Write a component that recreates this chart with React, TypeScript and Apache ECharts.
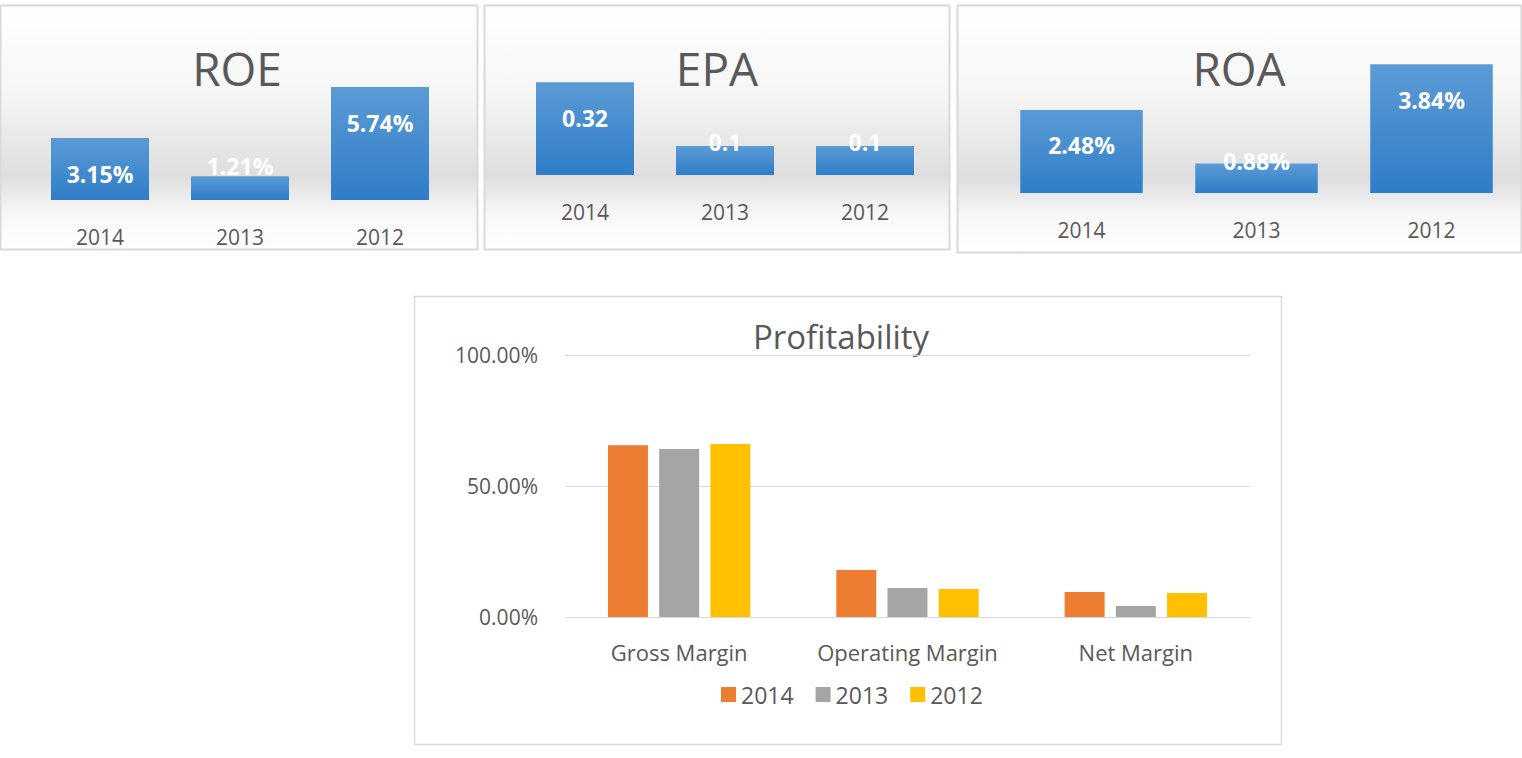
import * as echarts from "echarts";
import { useEffect, useRef } from "react";

const years = ["2014", "2013", "2012"];
const roe = [3.15, 1.21, 5.74];
const epa = [0.32, 0.1, 0.1];
const roa = [2.48, 0.88, 3.84];
const metrics = ["Gross Margin", "Operating Margin", "Net Margin"];
const m2014 = [65.6, 17.9, 9.5];
const m2013 = [64.1, 11.1, 4.2];
const m2012 = [66.0, 10.7, 9.2];

const FONT = "Open Sans";
const GREY = "#595959";

const blue = new echarts.graphic.LinearGradient(0, 0, 0, 1, [
  { offset: 0, color: "#5b9bd5" },
  { offset: 1, color: "#2f7dc8" },
]);

const panelBg = new echarts.graphic.LinearGradient(0, 0, 0, 1, [
  { offset: 0, color: "#ffffff" },
  { offset: 0.35, color: "#f6f6f6" },
  { offset: 0.7, color: "#dedede" },
  { offset: 0.85, color: "#f7f7f7" },
  { offset: 1, color: "#ffffff" },
]);

const panels = [
  { x: 0, y: 5, w: 478, h: 245, title: "ROE", tx: 237 },
  { x: 484, y: 5, w: 466, h: 245, title: "EPA", tx: 717 },
  { x: 957, y: 5, w: 565, h: 248, title: "ROA", tx: 1239 },
];

// short bars carry their label straddling the top edge
function smallBar(idx: number, data: number[], fmt: (v: number) => string, shortDist: number[]) {
  return {
    type: "bar",
    xAxisIndex: idx,
    yAxisIndex: idx,
    data: data.map((v, i) =>
      shortDist[i] === undefined || shortDist[i] === null
        ? v
        : { value: v, label: { position: "top", distance: shortDist[i] } },
    ),
    barWidth: "70%",
    itemStyle: { color: blue },
    label: {
      show: true,
      position: "insideTop",
      distance: 24,
      color: "#fff",
      fontWeight: "bold",
      fontSize: 23,
      fontFamily: FONT,
      formatter: (p: any) => fmt(p.value),
    },
  };
}

function getOption() {
  const grids = [
    { left: 30, width: 420, top: 82, height: 118 },
    { left: 515, width: 420, top: 59, height: 116 },
    { left: 994, width: 525, top: 59, height: 134 },
    { left: 565, width: 685, top: 355, height: 262 },
  ];
  const maxes = [6, 0.4, 4];
  const xAxis: any[] = [0, 1, 2].map((i) => ({
    type: "category",
    gridIndex: i,
    data: years,
    axisLine: { show: false },
    axisTick: { show: false },
    axisLabel: { color: GREY, fontSize: 21, fontFamily: FONT, margin: 26 },
  }));
  xAxis.push({
    type: "category",
    gridIndex: 3,
    data: metrics,
    axisLine: { lineStyle: { color: "#d9d9d9" } },
    axisTick: { show: false },
    axisLabel: { color: GREY, fontSize: 22, fontFamily: FONT, margin: 24, interval: 0 },
  });
  const yAxis: any[] = [0, 1, 2].map((i) => ({
    type: "value",
    gridIndex: i,
    min: 0,
    max: maxes[i],
    show: false,
  }));
  yAxis.push({
    type: "value",
    gridIndex: 3,
    min: 0,
    max: 100,
    interval: 50,
    axisLabel: {
      color: GREY,
      fontSize: 21,
      fontFamily: FONT,
      margin: 27,
      formatter: (v: number) => v.toFixed(2) + "%",
    },
    splitLine: { lineStyle: { color: "#d9d9d9" } },
  });
  const big = (name: string, data: number[], color: string) => ({
    type: "bar",
    name,
    xAxisIndex: 3,
    yAxisIndex: 3,
    data,
    barWidth: 40,
    barGap: "28%",
    itemStyle: { color },
  });
  return {
    animation: false,
    grid: grids,
    xAxis,
    yAxis,
    legend: {
      data: years,
      top: 678,
      left: 716,
      itemWidth: 15,
      itemHeight: 15,
      itemGap: 22,
      icon: "rect",
      textStyle: { color: GREY, fontSize: 23, fontFamily: FONT },
    },
    graphic: [
      ...panels.map((p) => ({
        type: "rect",
        z: -10,
        shape: { x: p.x + 0.5, y: p.y + 0.5, width: p.w - 1, height: p.h - 1 },
        style: { fill: panelBg, stroke: "#d9d9d9", lineWidth: 2 },
      })),
      ...panels.map((p) => ({
        type: "text",
        x: p.tx,
        y: 68,
        style: {
          text: p.title,
          fill: GREY,
          fontSize: 46,
          fontFamily: FONT,
          align: "center",
          verticalAlign: "middle",
        },
      })),
      {
        type: "rect",
        z: -10,
        shape: { x: 414.5, y: 296.5, width: 867, height: 448 },
        style: { fill: "#fff", stroke: "#d9d9d9", lineWidth: 1.5 },
      },
      {
        type: "text",
        x: 841,
        y: 336,
        style: {
          text: "Profitability",
          fill: GREY,
          fontSize: 33,
          fontFamily: FONT,
          align: "center",
          verticalAlign: "middle",
        },
      },
    ],
    series: [
      smallBar(0, roe, (v) => v.toFixed(2) + "%", [undefined as any, -1]),
      smallBar(1, epa, (v) => String(v), [undefined as any, -7, -7]),
      smallBar(2, roa, (v) => v.toFixed(2) + "%", [undefined as any, -9]),
      big("2014", m2014, "#ed7d31"),
      big("2013", m2013, "#a5a5a5"),
      big("2012", m2012, "#ffc000"),
    ],
  };
}

export default function App() {
  const ref = useRef<HTMLDivElement>(null);
  useEffect(() => {
    if (!ref.current) return;
    const chart = echarts.init(ref.current, null, { renderer: "svg" });
    chart.setOption(getOption());
    return () => chart.dispose();
  }, []);
  return (
    <div
      ref={ref}
      style={{ position: "fixed", left: 0, top: 0, width: 1522, height: 758, background: "#fff" }}
    />
  );
}
